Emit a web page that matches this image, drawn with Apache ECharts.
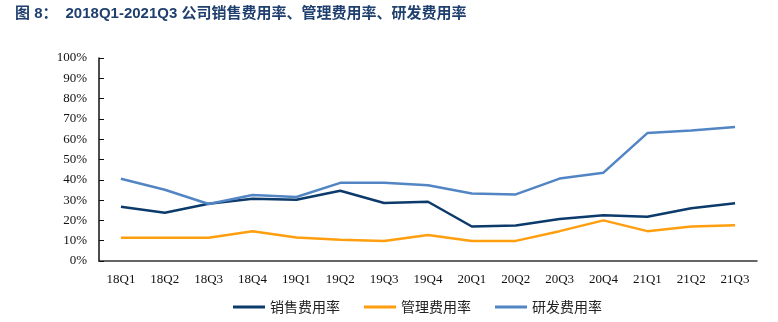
<!DOCTYPE html>
<html><head><meta charset="utf-8">
<script src="https://cdn.jsdelivr.net/npm/echarts@6/dist/echarts.min.js"></script>
<style>html,body{margin:0;padding:0;background:#fff}#c{width:778px;height:322px}</style>
</head><body><div id="c"></div>
<script>
const categories = ['18Q1','18Q2','18Q3','18Q4','19Q1','19Q2','19Q3','19Q4','20Q1','20Q2','20Q3','20Q4','21Q1','21Q2','21Q3'];
const sales = [26.7,23.8,28.2,30.7,30.2,34.6,28.6,29.2,17.0,17.5,20.7,22.5,21.8,26.0,28.5];
const admin = [11.5,11.5,11.5,14.6,11.6,10.5,9.9,12.8,9.9,9.9,14.7,20.0,14.7,17.0,17.6];
const rnd = [40.5,35.1,28.1,32.5,31.5,38.5,38.5,37.3,33.3,32.8,40.6,43.5,63.0,64.3,66.0];
const yTicks = [0,10,20,30,40,50,60,70,80,90,100];
const seriesNames = ['销售费用率','管理费用率','研发费用率'];
const colors = ['#0b3a6b','#ff9e0e','#5285c3'];

const chart = echarts.init(document.getElementById('c'), null, {renderer:'canvas'});
const tStyle = {fontFamily:'Liberation Sans, Noto Sans CJK SC, sans-serif', fontSize:15, fontWeight:'bold', color:'#1f3f6e'};
chart.setOption({
  animation:false,
  title:{text:'{a|图 8：}2018Q1-2021Q3 公司销售费用率、管理费用率、研发费用率', left:10, top:1,
    textStyle:Object.assign({}, tStyle, {rich:{a:Object.assign({}, tStyle, {padding:[0,8,0,0]})}})},
  grid:{left:99, right:21, top:58, bottom:61},
  legend:{bottom:3, left:228, itemWidth:32, itemHeight:3, itemGap:24,
    icon:'rect',
    textStyle:{fontFamily:'Noto Sans CJK SC, sans-serif', fontSize:14, color:'#222'},
    data:seriesNames},
  xAxis:{type:'category', data:categories, boundaryGap:true,
    axisLine:{lineStyle:{color:'#333', width:1.5}},
    axisTick:{show:false},
    axisLabel:{fontFamily:'Liberation Serif, serif', fontSize:13, color:'#111', margin:12}},
  yAxis:{type:'value', min:0, max:100, interval:10,
    axisLine:{show:true, lineStyle:{color:'#111', width:1.5}},
    axisTick:{show:true, inside:true, length:5, lineStyle:{color:'#111'}},
    splitLine:{show:false},
    axisLabel:{fontFamily:'Liberation Serif, serif', fontSize:13, color:'#111', margin:12,
      formatter:v=>yTicks.includes(v)? v+'%' : ''}},
  series:[
    {name:seriesNames[0], type:'line', data:sales, symbol:'none', lineStyle:{width:2.5, color:colors[0]}, itemStyle:{color:colors[0]}},
    {name:seriesNames[1], type:'line', data:admin, symbol:'none', lineStyle:{width:2.5, color:colors[1]}, itemStyle:{color:colors[1]}},
    {name:seriesNames[2], type:'line', data:rnd, symbol:'none', lineStyle:{width:2.5, color:colors[2]}, itemStyle:{color:colors[2]}}
  ]
});
</script></body></html>
